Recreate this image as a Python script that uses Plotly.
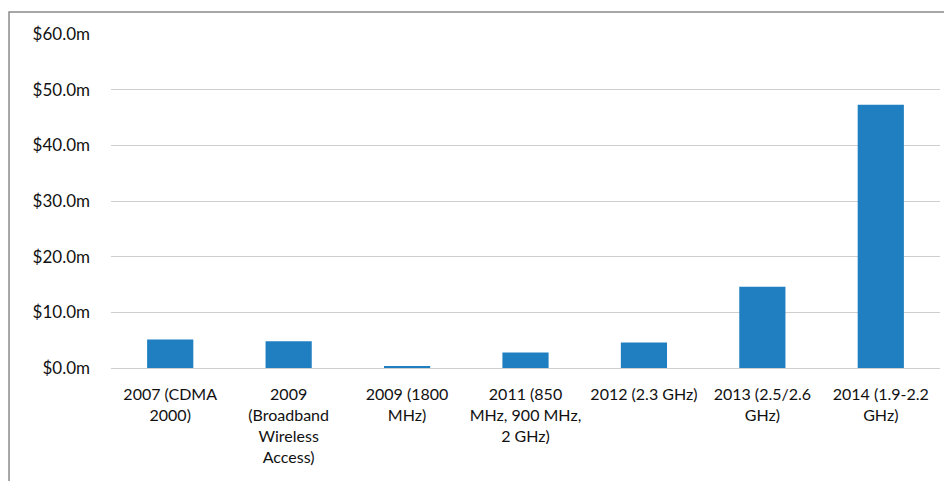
import plotly.graph_objects as go

categories = [
    "2007 (CDMA<br>2000)",
    "2009<br>(Broadband<br>Wireless<br>Access)",
    "2009 (1800<br>MHz)",
    "2011 (850<br>MHz, 900 MHz,<br>2 GHz)",
    "2012 (2.3 GHz)",
    "2013 (2.5/2.6<br>GHz)",
    "2014 (1.9-2.2<br>GHz)",
]
values = [5.1, 4.8, 0.3, 2.8, 4.6, 14.6, 47.3]
y_ticks = [0, 10, 20, 30, 40, 50, 60]
y_tick_labels = ["$%.1fm" % v for v in y_ticks]

fig = go.Figure(go.Bar(x=categories, y=values, marker=dict(color="#1f7fc1", line=dict(width=0))))

font_family = "Lato, 'Open Sans', sans-serif"
fig.update_layout(
    width=952, height=481,
    margin=dict(l=103, r=20, t=26, b=121),
    paper_bgcolor="white", plot_bgcolor="white",
    bargap=0.61,
    showlegend=False,
    font=dict(family=font_family, size=16, color="#111111"),
    shapes=[dict(type="rect", xref="paper", yref="paper",
                 x0=-0.123, x1=1.1, y0=-0.6, y1=1.066,
                 line=dict(color="#8a8a8a", width=1.5), layer="below")],
)
fig.update_yaxes(
    range=[0, 60], tickvals=y_ticks, ticktext=y_tick_labels,
    showgrid=True, gridcolor="#cfcfcf", gridwidth=1.2, zeroline=False,
    showline=False, ticklabelstandoff=20, tickfont=dict(size=17),
)
fig.update_xaxes(
    showline=True, linecolor="#cfcfcf", linewidth=1.2, ticks="",
    ticklabelstandoff=12, tickfont=dict(size=16), tickangle=0,
)
fig.write_html("out.html")
